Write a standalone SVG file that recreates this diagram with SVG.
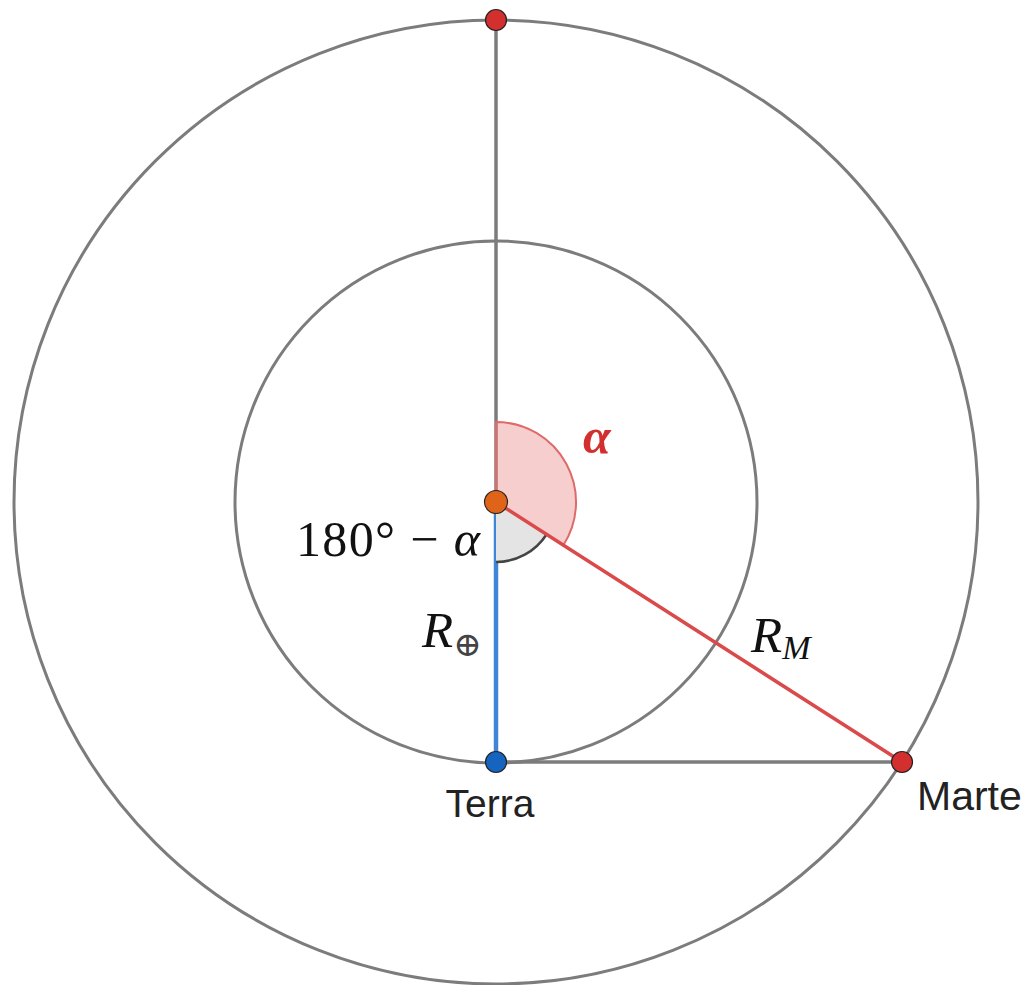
<svg xmlns="http://www.w3.org/2000/svg" width="1034" height="985" viewBox="0 0 1034 985">
<style>
.orbit{fill:none;stroke:#7c7c7c;stroke-width:3}
.gl{stroke:#7c7c7c;stroke-width:3.5}
.math{font-family:"Liberation Serif","DejaVu Serif",serif;fill:#111}
.lab{font-family:"Liberation Sans",Arial,sans-serif;fill:#222}
.pt{stroke:#222;stroke-width:1.2}
</style>
<rect width="1034" height="985" fill="#ffffff"/>
<g id="orbits">
<circle id="orbit-mars" class="orbit" cx="496" cy="502" r="482"/>
<circle id="orbit-earth" class="orbit" cx="496" cy="502" r="261"/>
</g>
<g id="connectors">
<line class="gl" x1="496" y1="20" x2="496" y2="502"/>
<line class="gl" x1="496" y1="762" x2="902" y2="762"/>
<line x1="496" y1="502" x2="496" y2="762" stroke="#3f86d6" stroke-width="4.5"/>
</g>
<g id="angles">
<path id="angle-alpha" d="M496,502 L496,422 A80,80 0 0 1 563.3,545.3 Z" fill="#e57373" fill-opacity="0.35" stroke="#e06a6a" stroke-width="2"/>
<path id="angle-supp" d="M496,502 L496,562 A60,60 0 0 0 546.5,534.5 Z" fill="#e4e4e4" stroke="none"/>
<path d="M496,562 A60,60 0 0 0 546.5,534.5" fill="none" stroke="#444" stroke-width="2.5"/>
</g>
<g id="radius-mars">
<line x1="496" y1="502" x2="902" y2="762" stroke="#db4a4a" stroke-width="3.5"/>
</g>
<g id="center"><circle class="pt" cx="496" cy="502" r="11.5" fill="#e0631a" stroke="#e0631a"/></g>
<g id="top-point"><circle class="pt" cx="496" cy="20" r="10.5" fill="#d32f2f"/></g>
<g id="terra"><circle class="pt" cx="496" cy="762" r="10.5" fill="#1565c0"/>
<text class="lab" x="490" y="817" font-size="39" text-anchor="middle">Terra</text></g>
<g id="marte"><circle class="pt" cx="902" cy="762" r="10.5" fill="#d32f2f"/>
<text class="lab" x="917" y="810" font-size="41">Marte</text></g>
<g id="labels">
<text class="math" x="583" y="453" font-size="50" font-style="italic" font-weight="bold" style="fill:#d32f2f">α</text>
<text class="math" x="296" y="556" font-size="50" textLength="184" lengthAdjust="spacing">180° − <tspan font-style="italic">α</tspan></text>
<text class="math" x="422" y="647" font-size="51" font-style="italic">R<tspan font-size="34" dy="9" font-style="normal" fill="#444">⊕</tspan></text>
<text class="math" x="751" y="652" font-size="51" font-style="italic">R<tspan font-size="34" dy="7">M</tspan></text>
</g>
</svg>
